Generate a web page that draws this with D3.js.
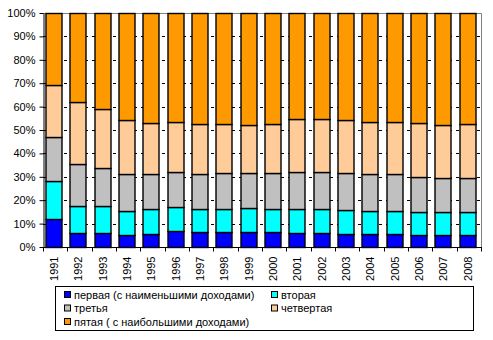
<!DOCTYPE html>
<html>
<head>
<meta charset="utf-8">
<script src="https://cdn.jsdelivr.net/npm/d3@7"></script>
<style>
  body { margin: 0; background: #fff; }
  svg { display: block; font-family: "Liberation Sans", Arial, sans-serif; }
</style>
</head>
<body>
<script>
const years = ["1991", "1992", "1993", "1994", "1995", "1996", "1997", "1998", "1999",
  "2000", "2001", "2002", "2003", "2004", "2005", "2006", "2007", "2008"];

// income quintile shares, % of total income
const first  = [12.1, 6.0, 6.0, 5.3, 5.6, 6.7, 6.2, 6.2, 6.2, 6.2, 5.8, 5.8, 5.7, 5.7, 5.7, 5.3, 5.3, 5.3];
const second = [15.9, 11.6, 11.4, 10.2, 10.5, 10.5, 10.2, 10.2, 10.6, 10.2, 10.6, 10.6, 10.2, 9.8, 9.8, 9.8, 9.8, 9.8];
const third  = [19.0, 17.7, 16.5, 15.5, 14.9, 15.0, 14.6, 15.1, 14.7, 15.1, 15.5, 15.5, 15.6, 15.5, 15.5, 14.9, 14.5, 14.5];
const fourth = [22.4, 26.5, 24.9, 23.1, 22.1, 21.3, 21.7, 21.2, 20.8, 21.2, 22.8, 22.8, 22.6, 22.5, 22.5, 22.8, 22.7, 22.8];
const fifth  = [30.6, 38.2, 41.2, 45.9, 46.9, 46.5, 47.3, 47.3, 47.7, 47.3, 45.3, 45.3, 45.9, 46.5, 46.5, 47.2, 47.7, 47.6];

const seriesNames = [
  "первая (с наименьшими доходами)",
  "вторая",
  "третья",
  "четвертая",
  "пятая ( с наибольшими доходами)"
];
const seriesValues = [first, second, third, fourth, fifth];
const colors = ["#0000ff", "#00ffff", "#c0c0c0", "#ffcc99", "#ff9900"];
const yTicks = [0, 10, 20, 30, 40, 50, 60, 70, 80, 90, 100];

const WIDTH = 493;
const HEIGHT = 340;
const PLOT = { left: 43, right: 481, top: 13, bottom: 247 };

const table = years.map((year, i) => {
  const row = { year };
  seriesNames.forEach((name, s) => { row[name] = seriesValues[s][i]; });
  return row;
});

const stacked = d3.stack().keys(seriesNames)(table);

const x = d3.scaleBand()
  .domain(years)
  .range([PLOT.left, PLOT.right])
  .paddingInner(1 / 3)
  .paddingOuter(1 / 6);

const y = d3.scaleLinear()
  .domain([0, 100])
  .range([PLOT.bottom, PLOT.top]);

const svg = d3.select("body").append("svg")
  .attr("width", WIDTH)
  .attr("height", HEIGHT);

// dashed gridlines behind the bars
svg.append("g")
  .selectAll("line")
  .data(yTicks.filter(t => t > 0 && t < 100))
  .join("line")
  .attr("x1", PLOT.left)
  .attr("x2", PLOT.right)
  .attr("y1", t => Math.round(y(t)) + 0.5)
  .attr("y2", t => Math.round(y(t)) + 0.5)
  .attr("stroke", "#000")
  .attr("stroke-dasharray", "3,4");

// plot frame: top and right in gray
svg.append("path")
  .attr("d", `M${PLOT.left},${PLOT.top + 0.5}H${PLOT.right + 0.5}V${PLOT.bottom}`)
  .attr("fill", "none")
  .attr("stroke", "#808080");

svg.append("g")
  .attr("transform", "translate(-1.5,0)")
  .selectAll("g")
  .data(stacked)
  .join("g")
  .attr("fill", (d, i) => colors[i])
  .selectAll("rect")
  .data(d => d)
  .join("rect")
  .attr("x", d => Math.round(x(d.data.year)) + 0.5)
  .attr("y", d => Math.round(y(d[1])) + 0.5)
  .attr("width", Math.round(x.bandwidth()))
  .attr("height", d => Math.round(y(d[0])) - Math.round(y(d[1])))
  .attr("stroke", "#000")
  .attr("stroke-width", 1.4);

const yAxis = d3.axisLeft(y)
  .tickValues(yTicks)
  .tickFormat(t => t + "%")
  .tickSize(4)
  .tickSizeOuter(0)
  .tickPadding(4);

svg.append("g")
  .attr("transform", `translate(${PLOT.left + 0.5},0)`)
  .call(yAxis)
  .call(g => g.selectAll("text").attr("font-size", 11).attr("font-family", "Liberation Sans, Arial").attr("fill", "#000"))
  .call(g => g.selectAll("line,path").attr("stroke", "#000"));

// category axis: ticks sit on the band boundaries
const xAxisG = svg.append("g")
  .attr("transform", `translate(0,${PLOT.bottom + 0.5})`);

xAxisG.append("line")
  .attr("x1", PLOT.left)
  .attr("x2", PLOT.right + 1)
  .attr("stroke", "#000");

xAxisG.selectAll("line.tick")
  .data(years.concat(["end"]))
  .join("line")
  .attr("class", "tick")
  .attr("x1", (d, i) => Math.round(PLOT.left + i * x.step()) + 0.5)
  .attr("x2", (d, i) => Math.round(PLOT.left + i * x.step()) + 0.5)
  .attr("y2", 4)
  .attr("stroke", "#000");

xAxisG.selectAll("text")
  .data(years)
  .join("text")
  .attr("transform", d => `translate(${x(d) + x.bandwidth() / 2 - 1},9) rotate(-90)`)
  .attr("text-anchor", "end")
  .attr("dy", "0.35em")
  .attr("font-size", 11)
  .text(d => d);

// legend
const legend = svg.append("g");

legend.append("rect")
  .attr("x", 55.5)
  .attr("y", 286.5)
  .attr("width", 418)
  .attr("height", 44)
  .attr("fill", "#fff")
  .attr("stroke", "#000");

const legendPos = [
  [64, 295], [271, 295],
  [64, 308.5], [271, 308.5],
  [64, 322]
];

const items = legend.selectAll("g.item")
  .data(seriesNames)
  .join("g")
  .attr("class", "item")
  .attr("transform", (d, i) => `translate(${legendPos[i][0]},${legendPos[i][1]})`);

items.append("rect")
  .attr("x", 0.5)
  .attr("y", -3.5)
  .attr("width", 6)
  .attr("height", 6)
  .attr("fill", (d, i) => colors[i])
  .attr("stroke", "#000");

items.append("text")
  .attr("x", 10)
  .attr("dy", "0.35em")
  .attr("font-size", 11)
  .text(d => d);
</script>
</body>
</html>
